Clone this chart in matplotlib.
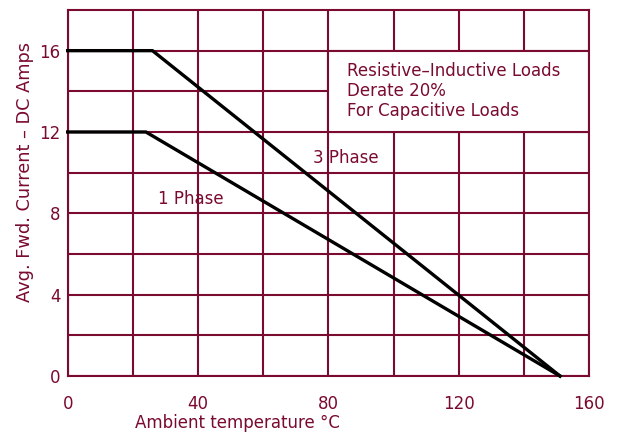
import matplotlib
matplotlib.use("Agg")
import matplotlib.pyplot as plt
from matplotlib.patches import Rectangle

# Data
temp_3ph = [0, 26, 151]
amps_3ph = [16, 16, 0]
temp_1ph = [0, 24, 151]
amps_1ph = [12, 12, 0]
x_ticks = [0, 40, 80, 120, 160]
y_ticks = [0, 4, 8, 12, 16]
x_grid = [20, 60, 100, 140]
y_grid = [2, 6, 10, 14]

C = '#7a0a2e'
plt.rcParams['font.family'] = ['DejaVu Sans']

fig = plt.figure(figsize=(6.18, 4.32), dpi=100)
ax = fig.add_axes([0.1095, 0.1296, 0.8441, 0.8473])
ax.set_xlim(0, 160)
ax.set_ylim(0, 18)

ax.set_xticks(x_ticks)
ax.set_xticks(x_grid, minor=True)
ax.set_yticks(y_ticks)
ax.set_yticks(y_grid, minor=True)
ax.grid(True, which='both', color=C, linewidth=1.5, zorder=1)
ax.set_axisbelow(True)
ax.tick_params(which='both', length=0, colors=C, labelsize=12)
ax.tick_params(axis='x', pad=14)
ax.tick_params(axis='y', pad=5)
for s in ax.spines.values():
    s.set_color(C)
    s.set_linewidth(1.5)

# annotation box hiding grid
ax.add_patch(Rectangle((80, 12), 80, 4, facecolor='white', edgecolor=C,
                       linewidth=1.5, zorder=2))

ax.plot(temp_3ph, amps_3ph, color='black', linewidth=2.4, zorder=3,
        solid_joinstyle='miter', clip_on=False)
ax.plot(temp_1ph, amps_1ph, color='black', linewidth=2.4, zorder=3,
        solid_joinstyle='miter', clip_on=False)

fs = 12
ax.text(85.8, 15.0, 'Resistive\u2013Inductive Loads', color=C, fontsize=fs,
        va='center', ha='left', zorder=4)
ax.text(85.8, 14.03, 'Derate 20%', color=C, fontsize=fs, va='center',
        ha='left', zorder=4)
ax.text(85.8, 13.05, 'For Capacitive Loads', color=C, fontsize=fs,
        va='center', ha='left', zorder=4)
ax.text(75.2, 10.72, '3 Phase', color=C, fontsize=fs, va='center',
        ha='left', zorder=4)
ax.text(27.8, 8.7, '1 Phase', color=C, fontsize=fs, va='center',
        ha='left', zorder=4)

fig.text(25 / 618, 1 - 172 / 432, 'Avg. Fwd. Current \u2013 DC Amps',
         rotation=90, color=C, fontsize=12.8, ha='center', va='center')
fig.text(237.5 / 618, 1 - 423 / 432, 'Ambient temperature \u00b0C',
         color=C, fontsize=12, ha='center', va='center')

fig.savefig('out.png', dpi=100)
